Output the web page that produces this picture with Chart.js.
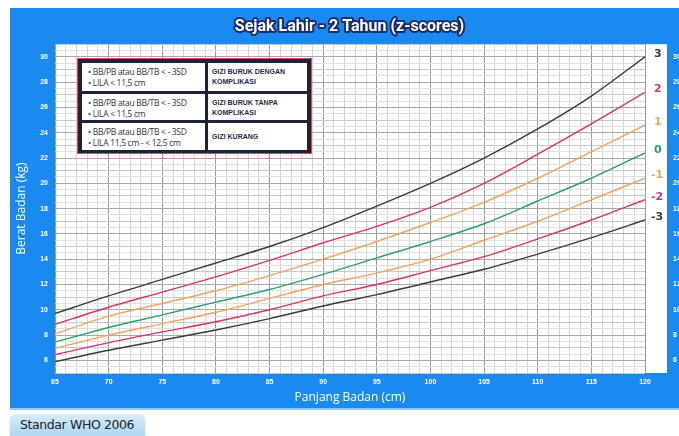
<!DOCTYPE html>
<html>
<head>
<meta charset="utf-8">
<script src="https://cdn.jsdelivr.net/npm/chart.js@4"></script>
<style>
    body { margin: 0; background: #fff; width: 679px; height: 436px; position: relative; overflow: hidden; font-family: "Open Sans", sans-serif; }
    .panel { position: absolute; left: 10px; top: 8px; width: 669px; height: 400px; background: #1a8af0; }
    .strip { position: absolute; left: 10px; top: 408px; width: 669px; height: 2px; background: #8ec6f7; }
    .box { position: absolute; left: 77px; top: 58px; width: 233px; height: 94px; background: #1d2236; border: 1.5px solid #e0485f; }
    .cell { position: absolute; background: #fff; box-sizing: border-box; }
    .cell.l { left: 4px; width: 123px; padding: 3px 0 0 6px; font-size: 8.5px; line-height: 11px; color: #333; font-family: "Open Sans", sans-serif; letter-spacing: -0.3px; }
    .cell.r { left: 130px; width: 99px; padding: 4px 0 0 4px; font-size: 7px; line-height: 9.5px; color: #1f2a44; font-weight: bold; font-family: "Liberation Sans", sans-serif; }
    .btn { position: absolute; left: 10px; top: 414px; width: 135px; height: 24px; border-radius: 6px 6px 0 0; background: linear-gradient(#d8ecfa, #a9d4f2); box-shadow: 0 1px 2px rgba(0,0,0,0.25); font-size: 12.5px; color: #222; line-height: 22px; padding-left: 10px; box-sizing: border-box; font-family: "DejaVu Sans", sans-serif; letter-spacing: -0.4px; }
</style>
</head>
<body>
    <div class="panel"><canvas id="myChart" width="669" height="400"></canvas></div>
    <div class="strip"></div>

    <div class="box">
        <div class="cell l" style="top:4px;height:28px;">• BB/PB atau BB/TB &lt; - 3SD<br>• LILA &lt; 11,5 cm</div>
        <div class="cell r" style="top:4px;height:28px;">GIZI BURUK DENGAN<br>KOMPLIKASI</div>
        <div class="cell l" style="top:35px;height:26px;">• BB/PB atau BB/TB &lt; - 3SD<br>• LILA &lt; 11,5 cm</div>
        <div class="cell r" style="top:35px;height:26px;">GIZI BURUK TANPA<br>KOMPLIKASI</div>
        <div class="cell l" style="top:64px;height:27px;">• BB/PB atau BB/TB &lt; - 3SD<br>• LILA 11,5 cm - &lt; 12,5 cm</div>
        <div class="cell r" style="top:64px;height:27px;padding-top:9px;">GIZI KURANG</div>
    </div>

    <div class="btn">Standar WHO 2006</div>

    <script>
        // panjang badan (cm) dan garis z-score berat badan (kg)
        const lengths = [65, 70, 75, 80, 85, 90, 95, 100, 105, 110, 115, 120];
        const sdPos3 = [9.7, 11.1, 12.4, 13.7, 15.0, 16.5, 18.2, 20.0, 22.0, 24.3, 26.9, 30.0];
        const sdPos2 = [8.85, 10.2, 11.4, 12.6, 13.9, 15.3, 16.6, 18.1, 20.0, 22.3, 24.7, 27.2];
        const sdPos1 = [8.1, 9.5, 10.5, 11.5, 12.7, 14.0, 15.4, 16.9, 18.5, 20.4, 22.5, 24.6];
        const sdZero = [7.45, 8.6, 9.6, 10.6, 11.6, 12.8, 14.1, 15.4, 16.8, 18.6, 20.4, 22.4];
        const sdNeg1 = [6.95, 8.0, 8.9, 9.8, 10.9, 12.0, 12.9, 14.0, 15.5, 17.0, 18.7, 20.4];
        const sdNeg2 = [6.45, 7.4, 8.25, 9.05, 10.0, 11.1, 12.0, 13.1, 14.2, 15.6, 17.1, 18.7];
        const sdNeg3 = [5.9, 6.8, 7.6, 8.4, 9.3, 10.3, 11.2, 12.2, 13.2, 14.4, 15.7, 17.1];
        const lineLabels = ['3', '2', '1', '0', '-1', '-2', '-3'];
        const yTickLabels = [6, 8, 10, 12, 14, 16, 18, 20, 22, 24, 26, 28, 30];
        const xTickLabels = [65, 70, 75, 80, 85, 90, 95, 100, 105, 110, 115, 120];

        const series = [sdPos3, sdPos2, sdPos1, sdZero, sdNeg1, sdNeg2, sdNeg3];
        const colors = ['#3a3a3a', '#d9336a', '#f2a35c', '#2f9e6e', '#f2a35c', '#d9336a', '#3a3a3a'];

        const datasets = series.map((vals, i) => ({
            label: lineLabels[i],
            data: vals.map((v, j) => ({ x: lengths[j], y: v })),
            borderColor: colors[i],
            borderWidth: 1.4,
            pointRadius: 0,
            tension: 0.3,
            fill: false
        }));

        // latar biru + area putih (sedikit melebar ke kanan)
        const bgPlugin = {
            id: 'bg',
            beforeDraw(chart) {
                const { ctx, chartArea } = chart;
                ctx.save();
                ctx.fillStyle = '#1a8af0';
                ctx.fillRect(0, 0, chart.width, chart.height);
                ctx.fillStyle = '#ffffff';
                ctx.fillRect(chartArea.left, chartArea.top, chartArea.right - chartArea.left + 22, chartArea.bottom - chartArea.top);
                ctx.restore();
            }
        };

        // label z-score di ujung garis
        const endLabels = {
            id: 'endLabels',
            afterDatasetsDraw(chart) {
                const ctx = chart.ctx;
                ctx.save();
                ctx.font = 'bold 11px "DejaVu Sans"';
                ctx.textBaseline = 'middle';
                chart.data.datasets.forEach((ds, i) => {
                    const pts = chart.getDatasetMeta(i).data;
                    const p = pts[pts.length - 1];
                    ctx.fillStyle = ds.borderColor;
                    const dx = ds.label.startsWith('-') ? 6 : 9;
                    ctx.fillText(ds.label, p.x + dx, p.y - 3);
                });
                ctx.restore();
            }
        };

        // judul dengan garis tepi
        const outlineTitle = {
            id: 'outlineTitle',
            afterDraw(chart) {
                const t = chart.titleBlock;
                if (!t) return;
                const ctx = chart.ctx;
                ctx.save();
                ctx.font = 'bold 16px Roboto';
                ctx.textAlign = 'center';
                ctx.textBaseline = 'middle';
                ctx.lineJoin = 'round';
                ctx.lineWidth = 4;
                ctx.strokeStyle = '#1b2d6b';
                const x = (t.left + t.right) / 2 + 5;
                const y = (t.top + t.bottom) / 2 + 1;
                ctx.strokeText(t.options.text, x, y);
                ctx.fillStyle = '#ffffff';
                ctx.fillText(t.options.text, x, y);
                ctx.restore();
            }
        };

        const tickFont = { size: 7, weight: 'bold', family: 'Liberation Sans' };

        const ctx = document.getElementById('myChart').getContext('2d');
        const myChart = new Chart(ctx, {
            type: 'line',
            data: { datasets: datasets },
            options: {
                responsive: false,
                animation: false,
                layout: { padding: 0 },
                plugins: {
                    legend: { display: false },
                    tooltip: { enabled: false },
                    title: {
                        display: true,
                        text: 'Sejak Lahir - 2 Tahun (z-scores)',
                        color: 'rgba(0,0,0,0)',
                        font: { size: 16, weight: 'bold', family: 'Roboto' },
                        padding: { top: 9, bottom: 8 }
                    }
                },
                scales: {
                    x: {
                        type: 'linear',
                        min: 65,
                        max: 120,
                        border: { display: false },
                        grid: {
                            drawTicks: false,
                            color: c => (c.tick.value % 5 === 0 ? '#9a9a9a' : '#d4d4d4'),
                            lineWidth: 1
                        },
                        ticks: {
                            stepSize: 1,
                            autoSkip: false,
                            maxRotation: 0,
                            padding: 5,
                            color: '#ffffff',
                            font: tickFont,
                            callback: v => (xTickLabels.includes(v) ? v : '')
                        },
                        title: {
                            display: true,
                            text: 'Panjang Badan (cm)',
                            color: '#ffffff',
                            font: { size: 12, family: 'Open Sans' },
                            padding: { top: 0, bottom: 3 }
                        },
                        afterFit: s => { s.height = 35; }
                    },
                    y: {
                        min: 5,
                        max: 31,
                        border: { display: false },
                        grid: {
                            drawTicks: false,
                            color: c => (c.tick.value % 2 === 0 ? '#a8a8a8' : (c.tick.value % 1 === 0 ? '#c8c8c8' : '#e0e0e0')),
                            lineWidth: 1
                        },
                        ticks: {
                            stepSize: 0.5,
                            autoSkip: false,
                            padding: 7,
                            color: '#ffffff',
                            font: tickFont,
                            callback: v => (yTickLabels.includes(v) ? v : '')
                        },
                        title: {
                            display: true,
                            text: 'Berat Badan (kg)',
                            color: '#ffffff',
                            font: { size: 12, family: 'Open Sans' },
                            padding: { top: 4, bottom: 0 }
                        },
                        afterFit: s => { s.width = 45; }
                    },
                    y2: {
                        position: 'right',
                        min: 5,
                        max: 31,
                        border: { display: false },
                        grid: { display: false, drawTicks: false },
                        ticks: {
                            stepSize: 0.5,
                            autoSkip: false,
                            padding: 28,
                            color: '#ffffff',
                            font: tickFont,
                            callback: v => (yTickLabels.includes(v) ? v : '')
                        },
                        afterFit: s => { s.width = 34; }
                    }
                }
            },
            plugins: [bgPlugin, endLabels, outlineTitle]
        });
    </script>
</body>
</html>
